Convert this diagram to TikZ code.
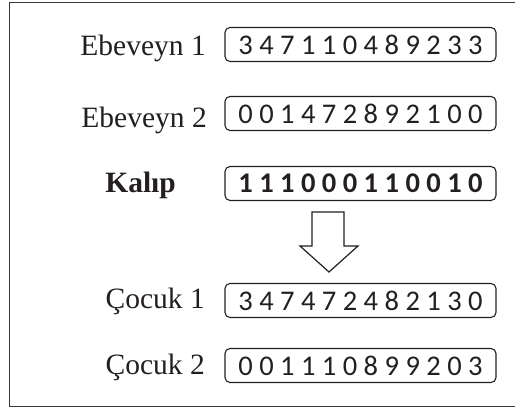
\documentclass[tikz,border=0pt]{standalone}
\usepackage{fontspec}
\setmainfont{Liberation Serif}
\newfontfamily\digitfont{Carlito}
\usetikzlibrary{positioning}

\definecolor{ink}{HTML}{231F20}

\begin{document}
\begin{tikzpicture}[x=1pt,y=-1pt,
    chrom/.style={draw=ink, text=ink, rounded corners=5pt, line width=1.1pt,
      minimum width=271pt, minimum height=34pt, inner sep=0pt,
      font=\digitfont\fontsize{28.5}{30}\selectfont},
    rowlabel/.style={anchor=base east, text=ink, inner sep=0pt,
      font=\fontsize{29.5}{31}\selectfont}]
    \useasboundingbox (0,0) rectangle (515,412);
    % outer frame
    \draw [line width=1.6pt, ink!90] (9.5,2.5) rectangle (530,406.5);

    % parents, mask and children
    \node [chrom] (ebeveyn1) at (360.5,44.5) {3 4 7 1 1 0 4 8 9 2 3 3};
    \node [chrom] (ebeveyn2) at (360.5,113.5) {0 0 1 4 7 2 8 9 2 1 0 0};
    \node [chrom, font=\digitfont\bfseries\fontsize{28.5}{30}\selectfont]
      (kalip) at (360.5,183.5) {1 1 1 0 0 0 1 1 0 0 1 0};
    \node [chrom] (cocuk1) at (360.5,300.5) {3 4 7 4 7 2 4 8 2 1 3 0};
    \node [chrom] (cocuk2) at (360.5,365.5) {0 0 1 1 1 0 8 9 9 2 0 3};

    \node [rowlabel] (n1) at (206,56) {Ebeveyn 1};
    \node [rowlabel] (n2) at (207,128) {Ebeveyn 2};
    \node [rowlabel, font=\bfseries\fontsize{29.5}{31}\selectfont] (nk) at (176,193) {Kalıp};
    \node [rowlabel] (c1) at (205,308) {Çocuk 1};
    \node [rowlabel] (c2) at (205,374) {Çocuk 2};

    % block arrow from the mask down to the children
    \draw [line width=1.2pt, ink, line join=miter]
      (312,212) -- (344,212) -- (344,246) -- (358,246) -- (329,272)
      -- (300,246) -- (312,246) -- cycle;
\end{tikzpicture}
\end{document}
